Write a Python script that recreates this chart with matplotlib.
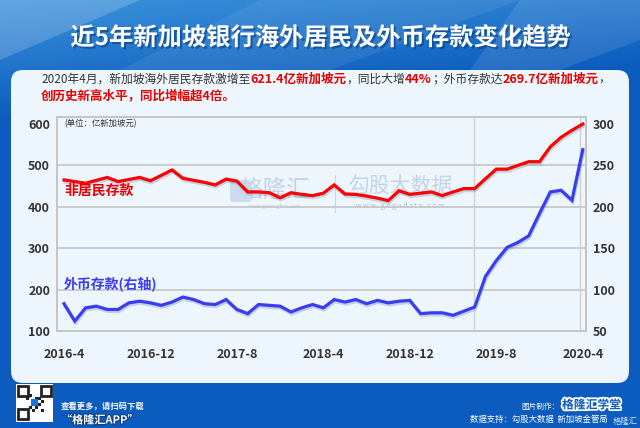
import matplotlib
matplotlib.use("Agg")
import matplotlib.pyplot as plt
import numpy as np
from matplotlib.patches import FancyBboxPatch, Rectangle, Polygon
import matplotlib.patheffects as pe

plt.rcParams['font.family'] = ['Noto Sans CJK SC', 'DejaVu Sans']

# ---------------- data ----------------
months = [f"{2016 + (3 + i) // 12}-{(3 + i) % 12 + 1}" for i in range(49)]  # 2016-4 .. 2020-4
nonresident = [465, 461, 457, 464, 471, 461, 466, 471, 463, 476,
               489, 469, 464, 459, 453, 467, 462, 436, 436, 434,
               422, 434, 430, 427, 433, 453, 431, 430, 426, 421,
               415, 439, 430, 433, 436, 427, 436, 444, 444, 468,
               491, 491, 500, 509, 509, 545, 568, 585, 600]
foreign = [83, 62, 78, 80, 76, 76, 84, 86, 84, 81,
           85, 91, 88, 83, 82, 88, 76, 71, 82, 81,
           80, 73, 78, 82, 78, 88, 85, 88, 83, 87,
           84, 86, 87, 71, 72, 72, 69, 74, 79, 116,
           135, 151, 157, 165, 192, 218, 220, 208, 269]
xtick_labels = ["2016-4", "2016-12", "2017-8", "2018-4", "2018-12", "2019-8", "2020-4"]
left_ticks = [100, 200, 300, 400, 500, 600]
right_ticks = [50, 100, 150, 200, 250, 300]

title = "近5年新加坡银行海外居民及外币存款变化趋势"
sub_parts = [("2020年4月，新加坡海外居民存款激增至", "#333333", "normal"),
             ("621.4亿新加坡元", "#e60000", "bold"),
             ("，同比大增", "#333333", "normal"),
             ("44%", "#e60000", "bold"),
             ("；外币存款达", "#333333", "normal"),
             ("269.7亿新加坡元", "#e60000", "bold"),
             ("，", "#333333", "normal")]
sub_line2 = "创历史新高水平，同比增幅超4倍。"

RED = "#ff0000"
BLUE = "#3b3bf5"

# ---------------- figure / background ----------------
fig = plt.figure(figsize=(6.4, 4.28), dpi=100)
bg = fig.add_axes([0, 0, 1, 1])
bg.set_xlim(0, 640)
bg.set_ylim(428, 0)
bg.axis('off')

# gradient backdrop
h, w = 428, 640
yy, xx = np.mgrid[0:h, 0:w]
t = np.clip((yy / 120.0) + (xx / 1400.0), 0, 1)
c1 = np.array([0x3d, 0x93, 0xdc]) / 255
c2 = np.array([0x0b, 0x5c, 0xbe]) / 255
img = c1[None, None, :] * (1 - t[..., None]) + c2[None, None, :] * t[..., None]
bg.imshow(img, extent=[0, 640, 428, 0], aspect='auto', zorder=0)
# diagonal light stripes in the header
for pts, a in [([(0, 0), (140, 0), (0, 60)], 0.18),
               ([(260, 0), (520, 0), (330, 70), (120, 70)], 0.07),
               ([(520, 0), (640, 0), (640, 40), (560, 70), (470, 70)], 0.10)]:
    bg.add_patch(Polygon(pts, closed=True, facecolor='white', alpha=a, edgecolor='none', zorder=1))

# card
card = FancyBboxPatch((11, 70), 618, 313, boxstyle="round,pad=0,rounding_size=12",
                      facecolor="#eef6fd", edgecolor="none", zorder=2)
bg.add_patch(card)

# title
bg.text(320, 38, title, color='white', fontsize=17.5, fontweight='bold', ha='center', va='center',
        zorder=5, path_effects=[pe.withSimplePatchShadow(offset=(1.5, -1.5), shadow_rgbFace='#0a3f80', alpha=0.6)])

# subtitle (rainbow text)
prev = bg.text(41, 79, sub_parts[0][0], color=sub_parts[0][1], fontweight=sub_parts[0][2],
               fontsize=8.5, ha='left', va='center', zorder=5)
for txt, col, wt in sub_parts[1:]:
    prev = bg.annotate(txt, xy=(1, 0), xycoords=prev, va='bottom', ha='left',
                       color=col, fontweight=wt, fontsize=8.5 if wt == 'normal' else 9, zorder=5)
bg.text(41, 96, sub_line2, color="#e60000", fontweight='bold', fontsize=9, ha='left', va='center', zorder=5)

# watermarks
bg.text(275, 190, "格隆汇", color="#b8cbe0", fontsize=17, ha='center', va='center', alpha=0.8, zorder=3)
bg.add_patch(FancyBboxPatch((230, 180), 22, 22, boxstyle="round,pad=0,rounding_size=3",
                            facecolor="#c5d6e8", edgecolor='none', alpha=0.8, zorder=3))
bg.text(275, 206, "www.gelonghui.com", color="#b8cbe0", fontsize=4, ha='center', va='center', zorder=3)
bg.plot([335, 335], [175, 212], color="#c5d6e8", lw=0.8, zorder=3)
bg.text(400, 186, "勾股大数据", color="#b8cbe0", fontsize=15, ha='center', va='center', alpha=0.8, zorder=3)
bg.text(400, 206, "w w w . g o g u d a t a . c o m", color="#aabdd4", fontsize=5, ha='center', va='center', zorder=3)

# footer
bg.add_patch(Rectangle((16, 384), 37, 38, facecolor='white', edgecolor='none', zorder=3))
qr_cells = [(0, 0), (0, 1), (1, 0), (2, 2), (3, 1), (4, 3), (1, 4), (2, 5), (5, 2), (3, 4), (5, 5), (4, 1)]
for (i, j) in qr_cells:
    bg.add_patch(Rectangle((26 + i * 3, 394 + j * 3), 2.5, 2.5, facecolor='#222', zorder=4))
for (fx, fy) in [(18, 386), (41, 386), (18, 409)]:
    bg.add_patch(Rectangle((fx, fy), 10, 10, facecolor='white', edgecolor='#222', lw=2, zorder=4))
bg.add_patch(Rectangle((31, 399), 7, 7, facecolor='#1a73e8', zorder=5))
bg.text(61, 406, "查看更多，请扫码下载", color='white', fontsize=6, style='italic', fontweight='bold',
        ha='left', va='center', zorder=5)
bg.text(61, 420, "“格隆汇APP”", color='white', fontsize=8, fontweight='bold', ha='left', va='center', zorder=5,
        path_effects=[pe.withStroke(linewidth=1.5, foreground='#0a3f80')])
bg.text(560, 407, "图片制作：", color='white', fontsize=5.5, ha='right', va='center', zorder=5)
bg.text(562, 405, "格隆汇学堂", color='#0b5cbe', fontsize=8.5, fontweight='bold', ha='left', va='center', zorder=5,
        path_effects=[pe.withStroke(linewidth=2.5, foreground='white')])
bg.text(608, 419, "数据支持：勾股大数据  新加坡金管局", color='white', fontsize=6, ha='right', va='center', zorder=5)
bg.text(638, 421, "格隆汇", color='white', fontsize=6, ha='right', va='center', alpha=0.8, zorder=6)

# ---------------- chart ----------------
ax = fig.add_axes([57 / 640, 1 - 331 / 428, (586 - 57) / 640, (331 - 117) / 428])
ax.set_facecolor('none')
ax2 = ax.twinx()
x = np.arange(len(months))

shadow = [pe.SimpleLineShadow(offset=(0.5, -1.5), shadow_color='#6a8fb8', alpha=0.35), pe.Normal()]
ax.plot(x, nonresident, color=RED, lw=2.3, zorder=5, path_effects=shadow, solid_joinstyle='miter')
ax2.plot(x, foreign, color=BLUE, lw=2.3, zorder=5, path_effects=shadow, solid_joinstyle='miter')

ax.set_xlim(-0.65, 48.3)
ax.set_ylim(100, 617)
ax2.set_ylim(50, 308.5)

ax.set_yticks(left_ticks)
ax2.set_yticks(right_ticks)
tick_pos = [months.index(l) for l in xtick_labels]
ax.set_xticks(tick_pos)
ax.set_xticklabels(xtick_labels)
for a in (ax, ax2):
    a.tick_params(length=0, labelsize=9, labelcolor='#333333')
    for lab in a.get_yticklabels() + a.get_xticklabels():
        lab.set_fontweight('bold')
    for s in a.spines.values():
        s.set_color('#c4c4c4')
        s.set_linewidth(1.2)
ax.tick_params(axis='x', pad=12)
ax.tick_params(axis='y', pad=5)
ax2.tick_params(axis='y', pad=5)

for v in [200, 300, 400, 500]:
    ax.axhline(v, color='#c4c4c4', lw=1.2, zorder=1)
ax.axvline(37.9, color='#d0d0d0', lw=1.0, zorder=1)
ax.axvline(47.7, color='#d0d0d0', lw=1.0, zorder=1)

ax.text(0.01, 600, "(单位：亿新加坡元)", fontsize=6, color='#333333', va='center', ha='left', zorder=6)
ax.text(0.0, 438, "非居民存款", color='#e60000', fontsize=10, fontweight='bold', va='center', ha='left', zorder=6)
ax.text(0.0, 215, "外币存款(右轴)", color=BLUE, fontsize=10, fontweight='bold', va='center', ha='left', zorder=6)

fig.savefig("out.png", dpi=100)
